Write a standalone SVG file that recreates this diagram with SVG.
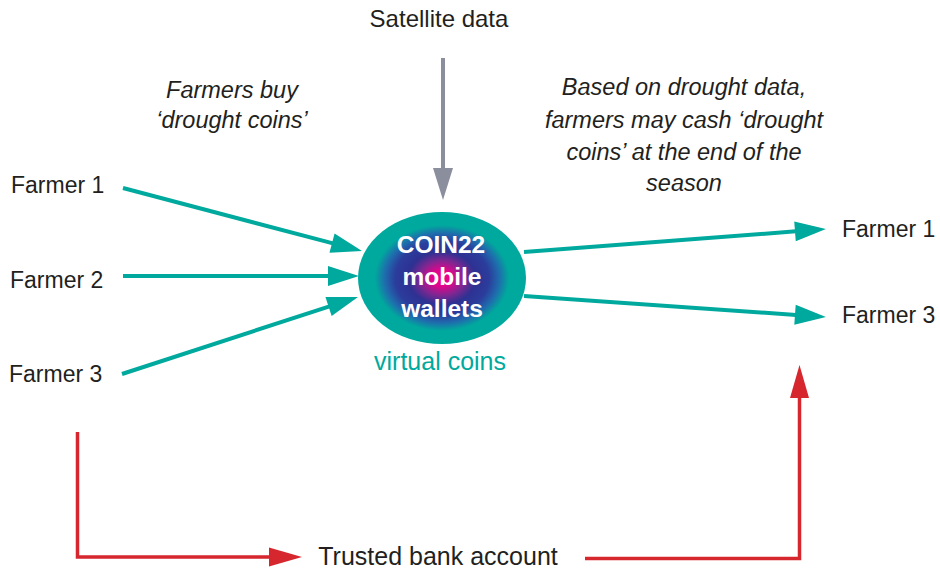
<svg xmlns="http://www.w3.org/2000/svg" width="940" height="570" viewBox="0 0 940 570">
  <style>
    text { font-family: "Liberation Sans", Arial, sans-serif; fill: #231f20; }
    .lbl { font-size: 23px; }
    .it { font-size: 23.5px; font-style: italic; text-anchor: middle; }
    .coin { font-size: 24.5px; font-weight: bold; fill: #ffffff; text-anchor: middle; }
    .teal { stroke: #00a99d; stroke-width: 4; fill: none; }
    .gray { stroke: #8b8e9d; stroke-width: 4; fill: none; }
    .red { stroke: #d6262e; stroke-width: 3.5; fill: none; }
  </style>
  <defs>
    <radialGradient id="wallet" cx="0.5" cy="0.5" r="0.5">
      <stop offset="0" stop-color="#ec008c"/>
      <stop offset="0.12" stop-color="#e3058c"/>
      <stop offset="0.27" stop-color="#7d2791"/>
      <stop offset="0.4" stop-color="#2e3192"/>
      <stop offset="0.56" stop-color="#2b3d9c"/>
      <stop offset="0.68" stop-color="#1f6cad"/>
      <stop offset="0.8" stop-color="#00a99d"/>
      <stop offset="1" stop-color="#00a99d"/>
    </radialGradient>
    <marker id="ahTeal" markerUnits="userSpaceOnUse" markerWidth="34" markerHeight="22" refX="0" refY="10" orient="auto" overflow="visible">
      <path d="M-1,0 L30,10 L-1,20 Z" fill="#00a99d"/>
    </marker>
    <marker id="ahGray" markerUnits="userSpaceOnUse" markerWidth="34" markerHeight="22" refX="0" refY="10" orient="auto" overflow="visible">
      <path d="M-1,0 L31,10 L-1,20 Z" fill="#8b8e9d"/>
    </marker>
    <marker id="ahRed" markerUnits="userSpaceOnUse" markerWidth="34" markerHeight="22" refX="0" refY="10" orient="auto" overflow="visible">
      <path d="M-1,0.5 L32,10 L-1,19.5 Z" fill="#d6262e"/>
    </marker>
  </defs>

  <g id="connectors">
    <line class="teal" x1="123" y1="188" x2="333" y2="243.4" marker-end="url(#ahTeal)"/>
    <line class="teal" x1="123" y1="276" x2="329" y2="276" marker-end="url(#ahTeal)"/>
    <line class="teal" x1="122" y1="374" x2="329.5" y2="306.3" marker-end="url(#ahTeal)"/>
    <line class="teal" x1="524" y1="252" x2="796" y2="231.3" marker-end="url(#ahTeal)"/>
    <line class="teal" x1="524" y1="296" x2="796" y2="314.9" marker-end="url(#ahTeal)"/>
    <line class="gray" x1="443" y1="58" x2="443" y2="169" marker-end="url(#ahGray)"/>
    <path class="red" d="M77.5,432 V557 H270" marker-end="url(#ahRed)"/>
    <path class="red" d="M585,558.5 H799.5 V397" marker-end="url(#ahRed)"/>
  </g>

  <g id="wallet-node">
    <ellipse cx="442" cy="278" rx="84" ry="66" fill="url(#wallet)"/>
    <text class="coin" x="441" y="253">COIN22</text>
    <text class="coin" x="442" y="285">mobile</text>
    <text class="coin" x="442" y="317">wallets</text>
    <text x="440" y="370" text-anchor="middle" style="font-size:25px;fill:#00a99d">virtual coins</text>
  </g>

  <g id="satellite">
    <text x="439" y="27" text-anchor="middle" style="font-size:24px">Satellite data</text>
  </g>

  <g id="farmer1-in"><text class="lbl" x="11" y="193">Farmer 1</text></g>
  <g id="farmer2-in"><text class="lbl" x="10" y="288">Farmer 2</text></g>
  <g id="farmer3-in"><text class="lbl" x="9" y="382">Farmer 3</text></g>

  <g id="farmer1-out"><text class="lbl" x="842" y="237">Farmer 1</text></g>
  <g id="farmer3-out"><text class="lbl" x="842" y="323">Farmer 3</text></g>

  <g id="bank">
    <text x="438" y="565" text-anchor="middle" style="font-size:25px">Trusted bank account</text>
  </g>

  <g id="note-buy">
    <text class="it" x="232" y="98">Farmers buy</text>
    <text class="it" x="232" y="128">‘drought coins’</text>
  </g>

  <g id="note-cash">
    <text class="it" x="684" y="95">Based on drought data,</text>
    <text class="it" x="684" y="128">farmers may cash ‘drought</text>
    <text class="it" x="684" y="160">coins’ at the end of the</text>
    <text class="it" x="684" y="191">season</text>
  </g>
</svg>
